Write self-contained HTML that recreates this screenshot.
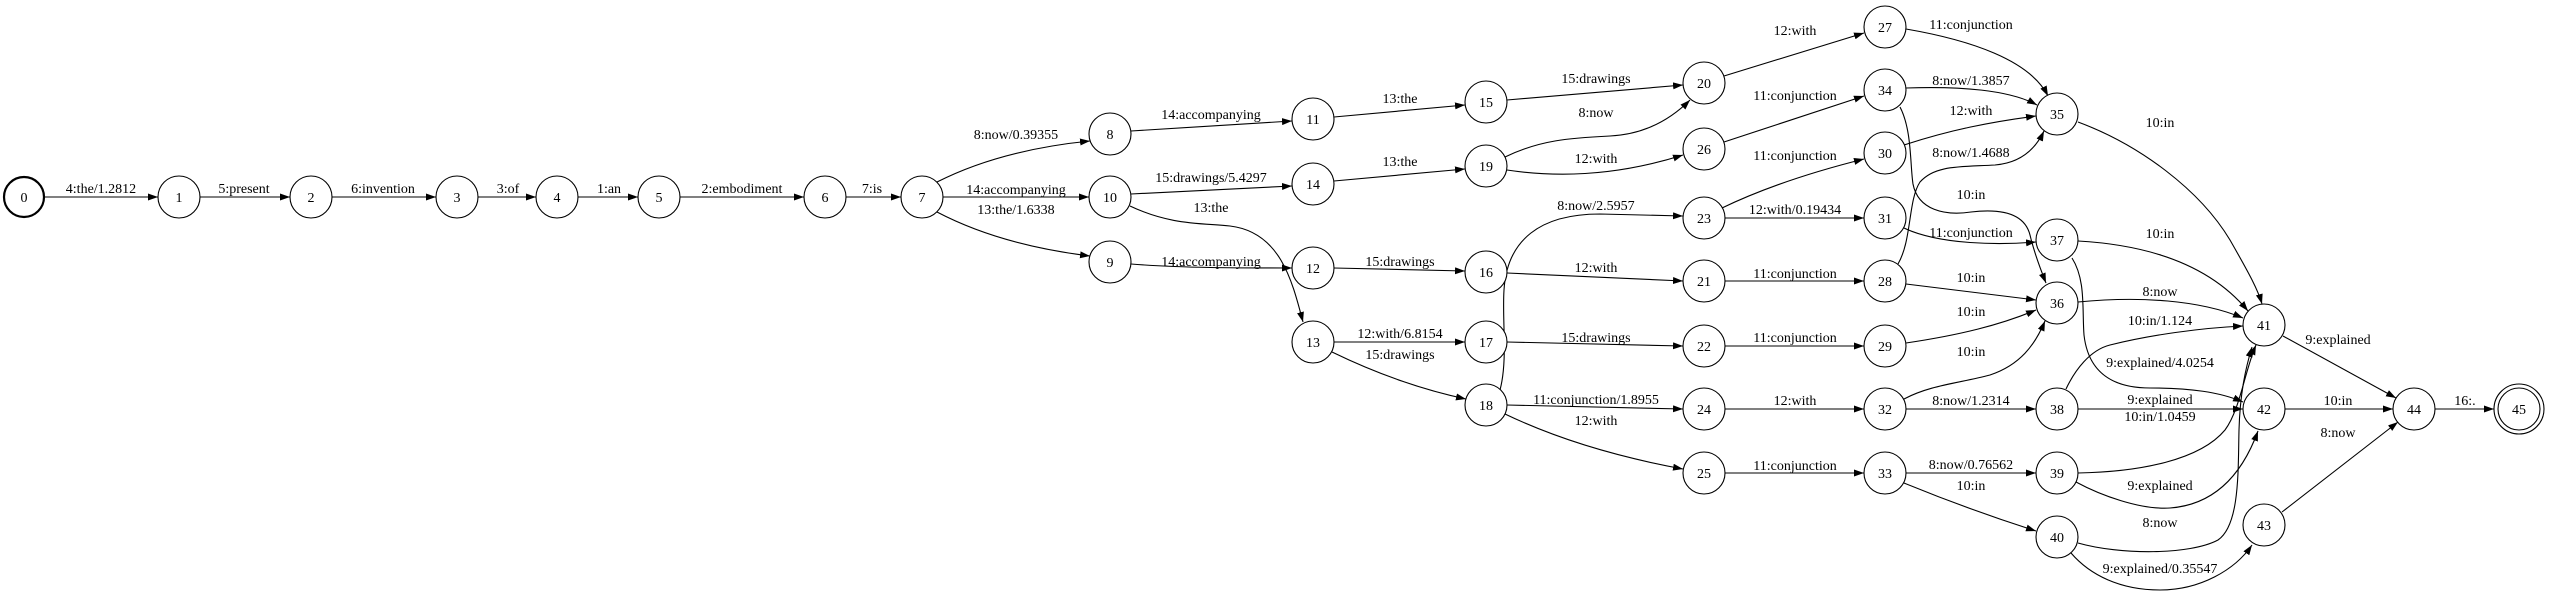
<!DOCTYPE html>
<html><head><meta charset="utf-8"><style>
html,body{margin:0;padding:0;background:#fff;}
svg{display:block;}
text{font-family:"Liberation Serif",serif;font-size:14px;fill:#000;}
.n text{text-anchor:middle;}
.e path{fill:none;stroke:#000;stroke-width:1.1;}
.l text{text-anchor:middle;}
</style></head><body>
<svg width="2550" height="594" viewBox="0 0 2550 594" xmlns="http://www.w3.org/2000/svg">
<defs><marker id="a" markerWidth="10" markerHeight="7" refX="10" refY="3.5" orient="auto" markerUnits="userSpaceOnUse"><path d="M0,0 L10,3.5 L0,7 z" fill="#000"/></marker></defs>
<g class="e">
<path marker-end="url(#a)" d="M44,197 L158,197"/>
<path marker-end="url(#a)" d="M200,197 L290,197"/>
<path marker-end="url(#a)" d="M332,197 L436,197"/>
<path marker-end="url(#a)" d="M478,197 L536,197"/>
<path marker-end="url(#a)" d="M578,197 L638,197"/>
<path marker-end="url(#a)" d="M680,197 L804,197"/>
<path marker-end="url(#a)" d="M846,197 L901,197"/>
<path marker-end="url(#a)" d="M937,182 Q1000,150 1090,141"/>
<path marker-end="url(#a)" d="M943,197 L1089,197"/>
<path marker-end="url(#a)" d="M937,212 Q1000,245 1090,256"/>
<path marker-end="url(#a)" d="M1131,131 L1292,121"/>
<path marker-end="url(#a)" d="M1131,194 L1292,186"/>
<path marker-end="url(#a)" d="M1130,206 C1170,225 1200,223 1230,226 C1280,232 1292,280 1303,322"/>
<path marker-end="url(#a)" d="M1131,264 C1180,268 1240,268 1292,268"/>
<path marker-end="url(#a)" d="M1334,117 L1465,105"/>
<path marker-end="url(#a)" d="M1334,181 L1465,169"/>
<path marker-end="url(#a)" d="M1334,268 L1465,271"/>
<path marker-end="url(#a)" d="M1334,342 L1465,342"/>
<path marker-end="url(#a)" d="M1332,352 Q1400,385 1466,399"/>
<path marker-end="url(#a)" d="M1507,100 L1683,85"/>
<path marker-end="url(#a)" d="M1505,157 C1540,140 1570,138 1610,136 C1650,134 1675,115 1690,100"/>
<path marker-end="url(#a)" d="M1507,170 C1560,178 1620,175 1683,155"/>
<path marker-end="url(#a)" d="M1500,390 C1508,360 1502,320 1504,290 C1507,240 1540,214 1600,214 L1683,216"/>
<path marker-end="url(#a)" d="M1507,273 L1683,281"/>
<path marker-end="url(#a)" d="M1507,342 L1683,346"/>
<path marker-end="url(#a)" d="M1507,405 L1683,409"/>
<path marker-end="url(#a)" d="M1505,414 Q1580,450 1683,469"/>
<path marker-end="url(#a)" d="M1724,76 L1864,33"/>
<path marker-end="url(#a)" d="M1724,142 L1864,96"/>
<path marker-end="url(#a)" d="M1722,208 Q1780,180 1864,159"/>
<path marker-end="url(#a)" d="M1725,218 L1864,218"/>
<path marker-end="url(#a)" d="M1725,281 L1864,281"/>
<path marker-end="url(#a)" d="M1725,346 L1864,346"/>
<path marker-end="url(#a)" d="M1725,409 L1864,409"/>
<path marker-end="url(#a)" d="M1725,473 L1864,473"/>
<path marker-end="url(#a)" d="M1906,29 C1970,40 2030,60 2048,96"/>
<path marker-end="url(#a)" d="M1906,88 C1960,86 2010,90 2037,105"/>
<path marker-end="url(#a)" d="M1904,145 C1950,130 1990,122 2036,116"/>
<path marker-end="url(#a)" d="M1898,264 C1912,240 1908,200 1920,182 C1935,165 1960,167 1995,165 C2020,163 2035,150 2044,131"/>
<path marker-end="url(#a)" d="M1900,107 C1912,130 1910,165 1913,184 C1918,210 1945,216 1971,212 C2005,208 2025,215 2030,235 C2034,252 2040,268 2046,283"/>
<path marker-end="url(#a)" d="M1904,228 C1940,245 2000,245 2036,242"/>
<path marker-end="url(#a)" d="M1906,284 L2036,300"/>
<path marker-end="url(#a)" d="M1906,343 C1960,335 2000,325 2036,310"/>
<path marker-end="url(#a)" d="M1904,399 C1930,385 1960,383 1990,375 C2020,365 2035,345 2045,321"/>
<path marker-end="url(#a)" d="M1906,409 L2036,409"/>
<path marker-end="url(#a)" d="M1906,473 L2036,473"/>
<path marker-end="url(#a)" d="M1904,483 Q1970,510 2036,531"/>
<path marker-end="url(#a)" d="M2078,122 C2140,145 2200,190 2230,240 C2250,275 2258,290 2262,304"/>
<path marker-end="url(#a)" d="M2078,241 C2150,245 2210,265 2248,311"/>
<path marker-end="url(#a)" d="M2078,302 C2140,296 2200,300 2243,318"/>
<path marker-end="url(#a)" d="M2066,389 C2075,370 2090,350 2110,345 C2150,335 2200,328 2243,326"/>
<path marker-end="url(#a)" d="M2072,258 C2086,280 2082,310 2084,335 C2088,370 2110,388 2150,388 C2190,388 2220,392 2243,402"/>
<path marker-end="url(#a)" d="M2078,409 L2243,409"/>
<path marker-end="url(#a)" d="M2078,473 C2140,472 2200,460 2225,430 C2240,410 2245,370 2256,345"/>
<path marker-end="url(#a)" d="M2076,482 C2100,495 2140,510 2170,508 C2210,505 2240,480 2258,431"/>
<path marker-end="url(#a)" d="M2078,543 C2120,555 2190,555 2218,540 C2240,525 2238,470 2239,430 C2240,395 2245,370 2252,347"/>
<path marker-end="url(#a)" d="M2071,553 C2090,575 2120,590 2160,590 C2200,590 2235,570 2252,545"/>
<path marker-end="url(#a)" d="M2283,336 L2396,398"/>
<path marker-end="url(#a)" d="M2285,409 L2393,409"/>
<path marker-end="url(#a)" d="M2282,512 L2398,422"/>
<path marker-end="url(#a)" d="M2435,409 L2494,409"/>
</g>
<g class="l">
<text x="101" y="193">4:the/1.2812</text>
<text x="244" y="193">5:present</text>
<text x="383" y="193">6:invention</text>
<text x="508" y="193">3:of</text>
<text x="609" y="193">1:an</text>
<text x="742" y="193">2:embodiment</text>
<text x="872" y="193">7:is</text>
<text x="1016" y="139">8:now/0.39355</text>
<text x="1016" y="194">14:accompanying</text>
<text x="1016" y="214">13:the/1.6338</text>
<text x="1211" y="119">14:accompanying</text>
<text x="1211" y="182">15:drawings/5.4297</text>
<text x="1211" y="212">13:the</text>
<text x="1211" y="266">14:accompanying</text>
<text x="1400" y="103">13:the</text>
<text x="1400" y="166">13:the</text>
<text x="1400" y="266">15:drawings</text>
<text x="1400" y="338">12:with/6.8154</text>
<text x="1400" y="359">15:drawings</text>
<text x="1596" y="83">15:drawings</text>
<text x="1596" y="117">8:now</text>
<text x="1596" y="163">12:with</text>
<text x="1596" y="210">8:now/2.5957</text>
<text x="1596" y="272">12:with</text>
<text x="1596" y="342">15:drawings</text>
<text x="1596" y="404">11:conjunction/1.8955</text>
<text x="1596" y="425">12:with</text>
<text x="1795" y="35">12:with</text>
<text x="1795" y="100">11:conjunction</text>
<text x="1795" y="160">11:conjunction</text>
<text x="1795" y="214">12:with/0.19434</text>
<text x="1795" y="278">11:conjunction</text>
<text x="1795" y="342">11:conjunction</text>
<text x="1795" y="405">12:with</text>
<text x="1795" y="470">11:conjunction</text>
<text x="1971" y="29">11:conjunction</text>
<text x="1971" y="85">8:now/1.3857</text>
<text x="1971" y="115">12:with</text>
<text x="1971" y="157">8:now/1.4688</text>
<text x="1971" y="199">10:in</text>
<text x="1971" y="237">11:conjunction</text>
<text x="1971" y="282">10:in</text>
<text x="1971" y="316">10:in</text>
<text x="1971" y="356">10:in</text>
<text x="1971" y="405">8:now/1.2314</text>
<text x="1971" y="469">8:now/0.76562</text>
<text x="1971" y="490">10:in</text>
<text x="2160" y="127">10:in</text>
<text x="2160" y="238">10:in</text>
<text x="2160" y="296">8:now</text>
<text x="2160" y="325">10:in/1.124</text>
<text x="2160" y="367">9:explained/4.0254</text>
<text x="2160" y="404">9:explained</text>
<text x="2160" y="421">10:in/1.0459</text>
<text x="2160" y="490">9:explained</text>
<text x="2160" y="527">8:now</text>
<text x="2160" y="573">9:explained/0.35547</text>
<text x="2338" y="344">9:explained</text>
<text x="2338" y="405">10:in</text>
<text x="2338" y="437">8:now</text>
<text x="2465" y="405">16:.</text>
</g>
<g class="n" fill="#fff" stroke="#000" stroke-width="1.1">
<circle cx="24" cy="197" r="20" stroke-width="2.2"/>
<circle cx="179" cy="197" r="21"/><circle cx="311" cy="197" r="21"/><circle cx="457" cy="197" r="21"/>
<circle cx="557" cy="197" r="21"/><circle cx="659" cy="197" r="21"/><circle cx="825" cy="197" r="21"/><circle cx="922" cy="197" r="21"/>
<circle cx="1110" cy="134" r="21"/><circle cx="1110" cy="197" r="21"/><circle cx="1110" cy="262" r="21"/>
<circle cx="1313" cy="119" r="21"/><circle cx="1313" cy="184" r="21"/><circle cx="1313" cy="268" r="21"/><circle cx="1313" cy="342" r="21"/>
<circle cx="1486" cy="102" r="21"/><circle cx="1486" cy="166" r="21"/><circle cx="1486" cy="272" r="21"/><circle cx="1486" cy="342" r="21"/><circle cx="1486" cy="405" r="21"/>
<circle cx="1704" cy="83" r="21"/><circle cx="1704" cy="149" r="21"/><circle cx="1704" cy="218" r="21"/><circle cx="1704" cy="281" r="21"/><circle cx="1704" cy="346" r="21"/><circle cx="1704" cy="409" r="21"/><circle cx="1704" cy="473" r="21"/>
<circle cx="1885" cy="27" r="21"/><circle cx="1885" cy="90" r="21"/><circle cx="1885" cy="153" r="21"/><circle cx="1885" cy="218" r="21"/><circle cx="1885" cy="281" r="21"/><circle cx="1885" cy="346" r="21"/><circle cx="1885" cy="409" r="21"/><circle cx="1885" cy="473" r="21"/>
<circle cx="2057" cy="114" r="21"/><circle cx="2057" cy="240" r="21"/><circle cx="2057" cy="303" r="21"/><circle cx="2057" cy="409" r="21"/><circle cx="2057" cy="473" r="21"/><circle cx="2057" cy="537" r="21"/>
<circle cx="2264" cy="325" r="21"/><circle cx="2264" cy="409" r="21"/><circle cx="2264" cy="525" r="21"/>
<circle cx="2414" cy="409" r="21"/>
<circle cx="2519" cy="409" r="25"/><circle cx="2519" cy="409" r="21"/>
</g>
<g class="n">
<text x="24" y="202">0</text><text x="179" y="202">1</text><text x="311" y="202">2</text><text x="457" y="202">3</text>
<text x="557" y="202">4</text><text x="659" y="202">5</text><text x="825" y="202">6</text><text x="922" y="202">7</text>
<text x="1110" y="139">8</text><text x="1110" y="202">10</text><text x="1110" y="267">9</text>
<text x="1313" y="124">11</text><text x="1313" y="189">14</text><text x="1313" y="273">12</text><text x="1313" y="347">13</text>
<text x="1486" y="107">15</text><text x="1486" y="171">19</text><text x="1486" y="277">16</text><text x="1486" y="347">17</text><text x="1486" y="410">18</text>
<text x="1704" y="88">20</text><text x="1704" y="154">26</text><text x="1704" y="223">23</text><text x="1704" y="286">21</text><text x="1704" y="351">22</text><text x="1704" y="414">24</text><text x="1704" y="478">25</text>
<text x="1885" y="32">27</text><text x="1885" y="95">34</text><text x="1885" y="158">30</text><text x="1885" y="223">31</text><text x="1885" y="286">28</text><text x="1885" y="351">29</text><text x="1885" y="414">32</text><text x="1885" y="478">33</text>
<text x="2057" y="119">35</text><text x="2057" y="245">37</text><text x="2057" y="308">36</text><text x="2057" y="414">38</text><text x="2057" y="478">39</text><text x="2057" y="542">40</text>
<text x="2264" y="330">41</text><text x="2264" y="414">42</text><text x="2264" y="530">43</text>
<text x="2414" y="414">44</text><text x="2519" y="414">45</text>
</g>
</svg>
</body></html>
